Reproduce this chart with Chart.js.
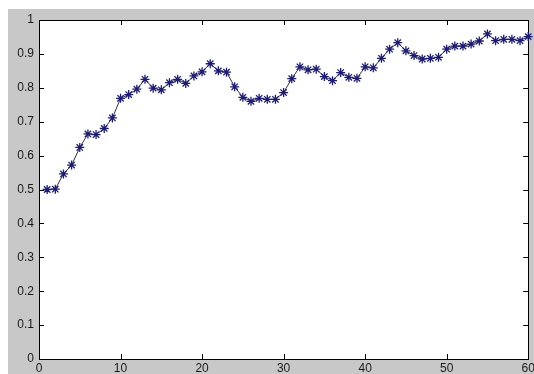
<!DOCTYPE html>
<html>
<head>
<meta charset="utf-8">
<script src="https://cdn.jsdelivr.net/npm/chart.js@4"></script>
<style>
  html, body { margin: 0; padding: 0; background: #fff; }
  #wrap { width: 534px; height: 374px; }
</style>
</head>
<body>
<div id="wrap"><canvas id="plot" width="534" height="374"></canvas></div>
<script>
// iteration number and measured ratio
const iterations = [
  1, 2, 3, 4, 5, 6, 7, 8, 9, 10,
  11, 12, 13, 14, 15, 16, 17, 18, 19, 20,
  21, 22, 23, 24, 25, 26, 27, 28, 29, 30,
  31, 32, 33, 34, 35, 36, 37, 38, 39, 40,
  41, 42, 43, 44, 45, 46, 47, 48, 49, 50,
  51, 52, 53, 54, 55, 56, 57, 58, 59, 60
];
const ratio = [
  0.500, 0.501, 0.546, 0.572, 0.624, 0.664, 0.662, 0.680, 0.711, 0.769,
  0.780, 0.796, 0.825, 0.799, 0.794, 0.815, 0.825, 0.813, 0.835, 0.847,
  0.871, 0.850, 0.846, 0.803, 0.772, 0.760, 0.769, 0.766, 0.766, 0.786,
  0.827, 0.862, 0.853, 0.855, 0.833, 0.821, 0.845, 0.831, 0.828, 0.862,
  0.859, 0.887, 0.914, 0.933, 0.909, 0.895, 0.885, 0.887, 0.890, 0.914,
  0.923, 0.923, 0.929, 0.938, 0.959, 0.939, 0.943, 0.943, 0.939, 0.951
];
const xTicks = [0, 10, 20, 30, 40, 50, 60];
const yTicks = [0, 0.1, 0.2, 0.3, 0.4, 0.5, 0.6, 0.7, 0.8, 0.9, 1];

const points = iterations.map((x, i) => ({ x: x, y: ratio[i] }));

// grey figure background, white axes box, inward tick marks
const matlabFrame = {
  id: "matlabFrame",
  beforeDraw(chart) {
    const ctx = chart.ctx;
    const a = chart.chartArea;
    ctx.save();
    ctx.fillStyle = "#ffffff";
    ctx.fillRect(0, 0, chart.width, chart.height);
    ctx.fillStyle = "#c8c8c8";
    ctx.fillRect(8, 9, chart.width - 8, chart.height - 9);
    ctx.fillStyle = "#ffffff";
    ctx.fillRect(a.left, a.top, a.right - a.left, a.bottom - a.top);
    ctx.restore();
  },
  beforeDatasetsDraw(chart) {
    const ctx = chart.ctx;
    const a = chart.chartArea;
    const xs = chart.scales.x;
    const ys = chart.scales.y;
    const len = 5;
    ctx.save();
    ctx.strokeStyle = "#000000";
    ctx.lineWidth = 1;
    ctx.beginPath();
    xTicks.forEach(v => {
      const px = Math.round(xs.getPixelForValue(v)) + 0.5;
      ctx.moveTo(px, a.bottom);
      ctx.lineTo(px, a.bottom - len);
      ctx.moveTo(px, a.top);
      ctx.lineTo(px, a.top + len);
    });
    yTicks.forEach(v => {
      const py = Math.round(ys.getPixelForValue(v)) + 0.5;
      ctx.moveTo(a.left, py);
      ctx.lineTo(a.left + len, py);
      ctx.moveTo(a.right, py);
      ctx.lineTo(a.right - len, py);
    });
    ctx.stroke();
    ctx.strokeRect(Math.round(a.left) + 0.5, Math.round(a.top) + 0.5,
      Math.round(a.right - a.left), Math.round(a.bottom - a.top));
    ctx.restore();
  }
};

new Chart(document.getElementById("plot"), {
  type: "line",
  data: {
    datasets: [{
      data: points,
      borderColor: "#30304a",
      borderWidth: 1,
      pointStyle: "star",
      pointRadius: 4.5,
      pointBorderColor: "#1c1c78",
      pointBackgroundColor: "#1c1c78",
      pointBorderWidth: 1.3,
      tension: 0,
      clip: false
    }]
  },
  options: {
    responsive: false,
    animation: false,
    layout: { padding: { left: 0, top: 20, right: 2, bottom: 0 } },
    plugins: {
      legend: { display: false },
      tooltip: { enabled: false }
    },
    scales: {
      x: {
        type: "linear",
        min: 0,
        max: 60,
        afterBuildTicks(scale) { scale.ticks = xTicks.map(v => ({ value: v })); },
        afterFit(scale) {
          scale.height = 15;
          scale.paddingLeft = 0;
          scale.paddingRight = 0;
        },
        grid: { display: false, drawTicks: false },
        border: { display: false },
        ticks: {
          padding: 2,
          maxRotation: 0,
          autoSkip: false,
          color: "#1a1a1a",
          font: { family: "Liberation Sans", size: 12 }
        }
      },
      y: {
        type: "linear",
        min: 0,
        max: 1,
        afterBuildTicks(scale) { scale.ticks = yTicks.map(v => ({ value: v })); },
        afterFit(scale) {
          scale.width = 39;
          scale.paddingTop = 0;
          scale.paddingBottom = 0;
        },
        grid: { display: false, drawTicks: false },
        border: { display: false },
        ticks: {
          padding: 5,
          autoSkip: false,
          color: "#1a1a1a",
          font: { family: "Liberation Sans", size: 12 },
          callback: v => String(Math.round(v * 10) / 10)
        }
      }
    }
  },
  plugins: [matlabFrame]
});
</script>
</body>
</html>
